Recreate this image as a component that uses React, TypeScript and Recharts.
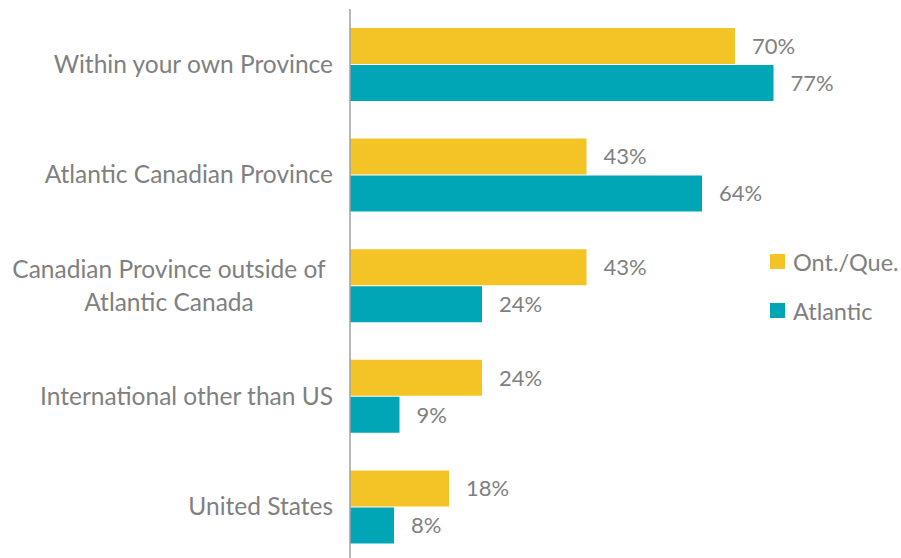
import React from 'react';
import { BarChart, Bar, XAxis, YAxis, LabelList, Legend } from 'recharts';

const categories = [
  'Within your own Province',
  'Atlantic Canadian Province',
  'Canadian Province outside of|Atlantic Canada',
  'International other than US',
  'United States',
];
const ontQue = [70, 43, 43, 24, 18];
const atlantic = [77, 64, 24, 9, 8];
const seriesNames = ['Ont./Que.', 'Atlantic'];

const YELLOW = '#F4C427';
const TEAL = '#00A6B6';
const TEXT = '#808080';
const FONT = 'Lato, "Open Sans", sans-serif';

const data = categories.map((c, i) => ({ cat: c, ontQue: ontQue[i], atlantic: atlantic[i] }));

const CatTick = (props: any) => {
  const { x, y, payload } = props;
  const lines: string[] = String(payload.value).split('|');
  if (lines.length === 1) {
    return (
      <text x={x} y={y} dy="0.35em" textAnchor="end" fill={TEXT} fontSize={24.5} fontFamily={FONT}>
        {lines[0]}
      </text>
    );
  }
  return (
    <g>
      {lines.map((l, i) => (
        <text key={i} x={x - 164} y={y + (i - 0.5) * 33} dy="0.35em" textAnchor="middle" fill={TEXT} fontSize={24.5} fontFamily={FONT}>
          {l}
        </text>
      ))}
    </g>
  );
};

const LegendContent = (props: any) => {
  const payload = [...(props.payload || [])].sort(
    (a: any, b: any) => seriesNames.indexOf(a.value) - seriesNames.indexOf(b.value)
  );
  return (
    <div style={{ fontFamily: FONT, fontSize: 23.5, color: TEXT }}>
      {payload.map((p: any, i: number) => (
        <div key={i} style={{ display: 'flex', alignItems: 'center', height: 49 }}>
          <span style={{ display: 'inline-block', width: 15, height: 15, background: p.color, marginRight: 8 }} />
          <span>{p.value}</span>
        </div>
      ))}
    </div>
  );
};

export default function App() {
  return (
    <div style={{ position: 'absolute', left: 0, top: 0, width: 901, height: 558, overflow: 'hidden', background: '#fff' }}>
      <BarChart
        width={901}
        height={562}
        data={data}
        layout="vertical"
        margin={{ top: 9, right: 1, bottom: 0, left: 0 }}
        barSize={36}
        barGap={1}
      >
        <XAxis type="number" domain={[0, 100]} hide />
        <YAxis
          type="category"
          dataKey="cat"
          width={350}
          tickLine={false}
          tickSize={0}
          tickMargin={17}
          axisLine={{ stroke: '#A0A0A0', strokeWidth: 1.5 }}
          tick={<CatTick />}
          interval={0}
        />
        <Legend
          layout="vertical"
          align="center"
          verticalAlign="middle"
          content={<LegendContent />}
          wrapperStyle={{ left: 770, top: 237, width: 131 }}
        />
        <Bar dataKey="ontQue" name={seriesNames[0]} fill={YELLOW} isAnimationActive={false}>
          <LabelList dataKey="ontQue" position="right" offset={17} formatter={(v: any) => `${v}%`} fill={TEXT} fontSize={22} fontFamily={FONT} />
        </Bar>
        <Bar dataKey="atlantic" name={seriesNames[1]} fill={TEAL} isAnimationActive={false}>
          <LabelList dataKey="atlantic" position="right" offset={17} formatter={(v: any) => `${v}%`} fill={TEXT} fontSize={22} fontFamily={FONT} />
        </Bar>
      </BarChart>
    </div>
  );
}
